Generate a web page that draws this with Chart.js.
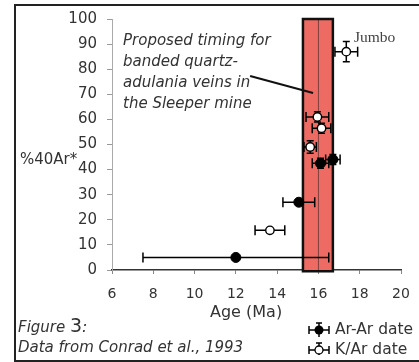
<!DOCTYPE html>
<html><head><meta charset="utf-8">
<script src="https://cdn.jsdelivr.net/npm/chart.js@4"></script>
<style>
html,body{margin:0;padding:0;background:#fff;}
#wrap{position:relative;width:419px;height:362px;overflow:hidden;background:#fff;}
#frame{position:absolute;left:14px;top:4px;width:420px;height:354px;border:2px solid #222;border-right:none;box-sizing:content-box;}
canvas{position:absolute;left:0;top:0;}
.t{position:absolute;white-space:nowrap;color:#333;font-family:"DejaVu Sans",sans-serif;}
.it{font-style:italic;}
</style></head>
<body><div id="wrap">
<div id="frame"></div>
<canvas id="c" width="419" height="362"></canvas>
<div class="t it" style="left:123px;top:30px;font-size:15px;line-height:21px;">Proposed timing for<br>banded quartz-<br>adulania veins in<br>the Sleeper mine</div>
<div class="t" style="left:354px;top:28px;font-size:15.5px;font-family:'Liberation Serif',serif;color:#444;">Jumbo</div>
<div class="t" style="left:20px;top:150px;font-size:15px;">%40Ar*</div>
<div class="t" style="left:210px;top:302px;font-size:16px;">Age (Ma)</div>
<div class="t" style="left:18px;top:314px;font-size:15px;"><span class="it">Figure </span><span style="font-size:19px;">3</span><span class="it" style="font-size:16px;">:</span></div>
<div class="t it" style="left:18px;top:338px;font-size:15px;">Data from Conrad et al., 1993</div>
<svg style="position:absolute;left:307px;top:322px" width="24" height="34">
 <g stroke="#000" stroke-width="1.5" fill="none">
  <line x1="2" y1="8" x2="22" y2="8"/><line x1="2" y1="4" x2="2" y2="12"/><line x1="22" y1="4" x2="22" y2="12"/>
  <line x1="12" y1="1" x2="12" y2="15"/><line x1="9" y1="1" x2="15" y2="1"/>
 </g>
 <circle cx="12" cy="8" r="4.5" fill="#000"/>
 <g stroke="#000" stroke-width="1.5" fill="none">
  <line x1="2" y1="28" x2="22" y2="28"/><line x1="2" y1="24" x2="2" y2="32"/><line x1="22" y1="24" x2="22" y2="32"/>
  <line x1="12" y1="21" x2="12" y2="33"/><line x1="9" y1="21" x2="15" y2="21"/>
 </g>
 <circle cx="12" cy="28" r="4" fill="#fff" stroke="#000" stroke-width="1.3"/>
</svg>
<div class="t" style="left:335px;top:320px;font-size:15.5px;">Ar-Ar date</div>
<div class="t" style="left:335px;top:340px;font-size:15.5px;">K/Ar date</div>
</div>
<script>
// ---- data ----
const arAge    = [12.0, 15.05, 16.1, 16.7];
const arPct    = [5, 27, 42.5, 44];
const arAgeErr = [4.5, 0.77, 0.4, 0.35];
const arPctErr = [0, 0, 2, 2];

const kaAge    = [13.65, 15.6, 15.95, 16.15, 17.35];
const kaPct    = [15.8, 49, 61, 56.5, 87];
const kaAgeErr = [0.72, 0.3, 0.55, 0.45, 0.55];
const kaPctErr = [0, 2.5, 2, 2, 4];

const xTicks = [6, 8, 10, 12, 14, 16, 18, 20];
const yTicks = [0, 10, 20, 30, 40, 50, 60, 70, 80, 90, 100];

const bandAge = [15.25, 16.7];
const bandPct = [-0.5, 100];
const bandCenter = 16;
const pointerFrom = [12.69, 77.3];
const pointerTo   = [15.74, 70.5];

const toPts = (xs, ys) => xs.map((x, i) => ({x: x, y: ys[i]}));

const errSets = [
  {xs: arAge, ys: arPct, ex: arAgeErr, ey: arPctErr},
  {xs: kaAge, ys: kaPct, ex: kaAgeErr, ey: kaPctErr}
];

const overlay = {
  id: 'overlay',
  beforeDatasetsDraw(chart) {
    const ctx = chart.ctx, xs = chart.scales.x, ys = chart.scales.y;
    ctx.save();
    // band
    const x0 = xs.getPixelForValue(bandAge[0]), x1 = xs.getPixelForValue(bandAge[1]);
    const y0 = ys.getPixelForValue(bandPct[1]), y1 = ys.getPixelForValue(bandPct[0]);
    ctx.fillStyle = '#ee6b63';
    ctx.fillRect(x0, y0, x1 - x0, y1 - y0);
    ctx.strokeStyle = 'rgba(90,50,50,0.75)';
    ctx.lineWidth = 1;
    const xc = xs.getPixelForValue(bandCenter);
    ctx.beginPath(); ctx.moveTo(xc, y0); ctx.lineTo(xc, y1); ctx.stroke();
    ctx.strokeStyle = '#111';
    ctx.lineWidth = 2.5;
    ctx.strokeRect(x0, y0, x1 - x0, y1 - y0);
    // pointer
    ctx.lineWidth = 2;
    ctx.beginPath();
    ctx.moveTo(xs.getPixelForValue(pointerFrom[0]), ys.getPixelForValue(pointerFrom[1]));
    ctx.lineTo(xs.getPixelForValue(pointerTo[0]), ys.getPixelForValue(pointerTo[1]));
    ctx.stroke();
    // error bars
    ctx.strokeStyle = '#000';
    ctx.lineWidth = 1.5;
    errSets.forEach(s => {
      s.xs.forEach((x, i) => {
        const py = ys.getPixelForValue(s.ys[i]);
        const px = xs.getPixelForValue(x);
        if (s.ex[i] > 0) {
          const a = xs.getPixelForValue(x - s.ex[i]), b = xs.getPixelForValue(x + s.ex[i]);
          ctx.beginPath();
          ctx.moveTo(a, py); ctx.lineTo(b, py);
          ctx.moveTo(a, py - 5); ctx.lineTo(a, py + 5);
          ctx.moveTo(b, py - 5); ctx.lineTo(b, py + 5);
          ctx.stroke();
        }
        if (s.ey[i] > 0) {
          const a = ys.getPixelForValue(s.ys[i] - s.ey[i]), b = ys.getPixelForValue(s.ys[i] + s.ey[i]);
          ctx.beginPath();
          ctx.moveTo(px, a); ctx.lineTo(px, b);
          ctx.moveTo(px - 3.5, a); ctx.lineTo(px + 3.5, a);
          ctx.moveTo(px - 3.5, b); ctx.lineTo(px + 3.5, b);
          ctx.stroke();
        }
      });
    });
    ctx.restore();
  }
};

new Chart(document.getElementById('c'), {
  type: 'scatter',
  data: {
    datasets: [
      {label: 'Ar-Ar date', data: toPts(arAge, arPct), pointRadius: 5, pointBackgroundColor: '#000', pointBorderColor: '#000', pointBorderWidth: 1},
      {label: 'K/Ar date', data: toPts(kaAge, kaPct), pointRadius: 4.2, pointBackgroundColor: '#fff', pointBorderColor: '#000', pointBorderWidth: 1.4}
    ]
  },
  options: {
    responsive: false,
    animation: false,
    events: [],
    layout: {padding: {left: 0, right: 18, top: 19, bottom: 0}},
    plugins: {legend: {display: false}, tooltip: {enabled: false}},
    scales: {
      x: {
        type: 'linear', min: 6, max: 20,
        afterFit: s => { s.height = 92; s.paddingRight = 0; s.paddingLeft = 0; },
        afterBuildTicks: s => { s.ticks = xTicks.map(v => ({value: v})); },
        ticks: {font: {family: 'DejaVu Sans', size: 14}, color: '#333', padding: 12},
        grid: {drawOnChartArea: false, drawTicks: true, tickLength: 4, color: '#888'},
        border: {display: true, color: '#333', width: 1.5}
      },
      y: {
        type: 'linear', min: 0, max: 100,
        afterFit: s => { s.width = 112; },
        afterBuildTicks: s => { s.ticks = yTicks.map(v => ({value: v})); },
        ticks: {font: {family: 'DejaVu Sans', size: 15}, color: '#333', padding: 10},
        grid: {drawOnChartArea: false, drawTicks: true, tickLength: 5, color: '#999'},
        border: {display: true, color: '#aaa', width: 1}
      }
    }
  },
  plugins: [overlay]
});
</script>
</body></html>
